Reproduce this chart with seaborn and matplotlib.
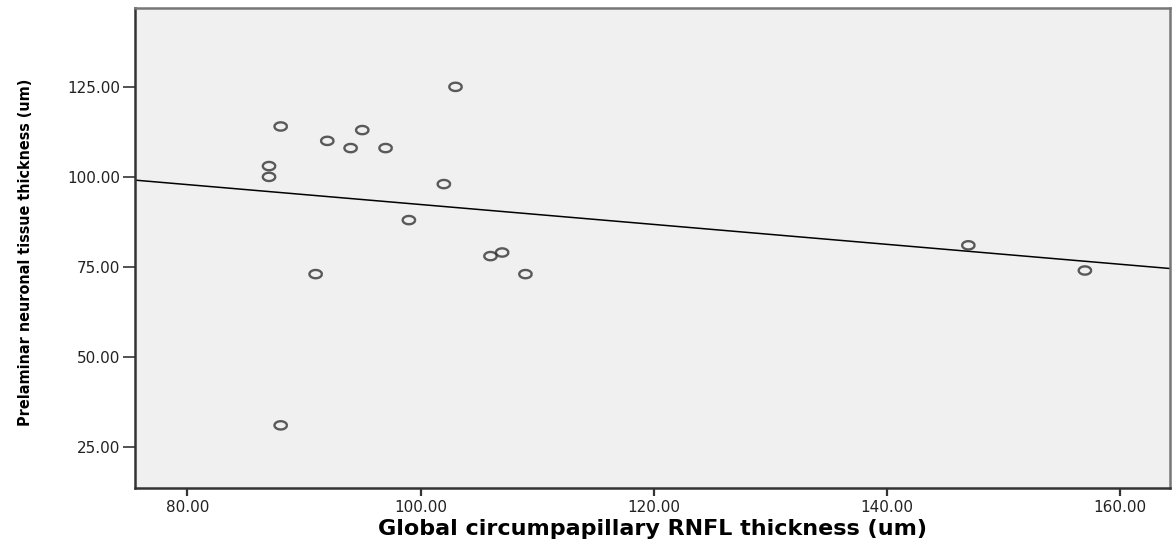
import numpy as np
import pandas as pd
import seaborn as sns
import matplotlib
matplotlib.use("Agg")
import matplotlib.pyplot as plt
from matplotlib import font_manager

# values
rnfl = [88, 103, 87, 87, 92, 95, 94, 97, 102, 99, 91, 106, 107, 109, 147, 157, 88]
prelaminar = [114, 125, 103, 100, 110, 113, 108, 108, 98, 88, 73, 78, 79, 73, 81, 74, 31]
xticks = [80, 100, 120, 140, 160]
yticks = [25, 50, 75, 100, 125]

xlab = "Global circumpapillary RNFL thickness (um)"
ylab = "Prelaminar neuronal tissue thickness (um)"

sns.set_style("white")
plt.rcParams['font.family'] = ['DejaVu Sans']

df = pd.DataFrame({'rnfl': rnfl, 'pre': prelaminar})

fig = plt.figure(figsize=(11.73, 5.44), dpi=100)
ax = fig.add_axes([135/1173, 1 - 488/544, (1170-135)/1173, (488-8)/544])
ax.set_facecolor('#f0f0f0')
ax.set_xlim(75.5, 164.3)
ax.set_ylim(13.6, 146.9)

# ellipse shaped open marker like the SPSS one
t = np.linspace(0, 2*np.pi, 40)
ell = [(1.5*np.cos(a), np.sin(a)) for a in t]

sns.regplot(data=df, x='rnfl', y='pre', ax=ax, ci=None, truncate=False,
            marker=ell,
            scatter_kws=dict(s=80, facecolors='none', edgecolors='#333333', linewidths=1.7),
            line_kws=dict(color='black', lw=1.1))

ax.set_xlim(75.5, 164.3)
ax.set_ylim(13.6, 146.9)
ax.set_xticks(xticks)
ax.set_yticks(yticks)
ax.set_xticklabels([f'{v:.2f}' for v in xticks])
ax.set_yticklabels([f'{v:.2f}' for v in yticks])
ax.tick_params(axis='y', direction='out', length=9, width=1.2, color='#333333',
               labelsize=11, labelcolor='#222222', pad=1.5, left=True)
ax.tick_params(axis='x', direction='out', length=6, width=1.6, color='#333333',
               labelsize=11, labelcolor='#222222', pad=2.5, bottom=True)

for s in ['left', 'bottom']:
    ax.spines[s].set_color('#333333')
    ax.spines[s].set_linewidth(1.8)
for s in ['top', 'right']:
    ax.spines[s].set_color('#777777')
    ax.spines[s].set_linewidth(1.8)

ax.set_xlabel(xlab, fontsize=16, fontweight='bold', color='black', labelpad=3)
ax.set_ylabel(ylab, fontproperties=font_manager.FontProperties(
    family='DejaVu Sans', weight='bold', stretch='condensed', size=11.5),
    color='black')
ax.yaxis.set_label_coords(-0.099, 0.49)

fig.savefig('out.png', dpi=100, facecolor='white')
